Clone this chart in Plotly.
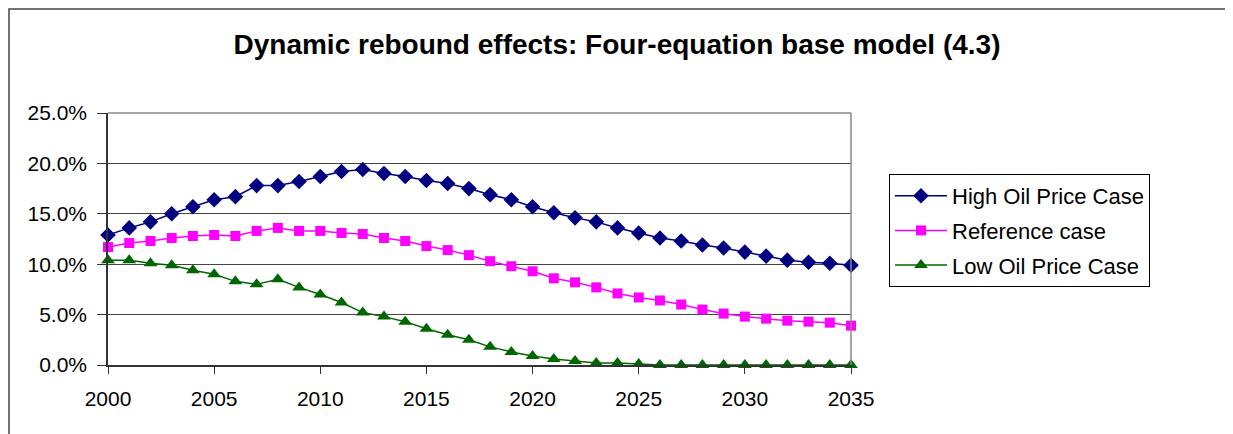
import plotly.graph_objects as go

years = list(range(2000, 2036))
high_oil = [12.9, 13.6, 14.2, 15.0, 15.7, 16.4, 16.7, 17.8, 17.8, 18.2, 18.7, 19.2, 19.4, 19.0, 18.7, 18.3, 18.0, 17.5,
            16.9, 16.4, 15.7, 15.1, 14.6, 14.2, 13.6, 13.1, 12.6, 12.3, 11.9, 11.6, 11.2, 10.8, 10.4, 10.2, 10.1, 9.9]
reference = [11.7, 12.1, 12.3, 12.6, 12.8, 12.9, 12.8, 13.3, 13.6, 13.3, 13.3, 13.1, 13.0, 12.6, 12.3, 11.8, 11.4, 10.9,
             10.3, 9.8, 9.3, 8.6, 8.2, 7.7, 7.1, 6.7, 6.4, 6.0, 5.5, 5.1, 4.8, 4.6, 4.4, 4.3, 4.2, 3.9]
low_oil = [10.4, 10.4, 10.1, 9.9, 9.4, 9.0, 8.3, 8.0, 8.5, 7.7, 7.0, 6.2, 5.2, 4.8, 4.3, 3.6, 3.0, 2.5,
           1.8, 1.3, 0.9, 0.6, 0.4, 0.2, 0.2, 0.1, 0.0, 0.0, 0.0, 0.0, 0.0, 0.0, 0.0, 0.0, 0.0, 0.0]
series_names = ["High Oil Price Case", "Reference case", "Low Oil Price Case"]
x_ticks = [2000, 2005, 2010, 2015, 2020, 2025, 2030, 2035]
y_ticks = [0, 5, 10, 15, 20, 25]
y_tick_labels = ["0.0%", "5.0%", "10.0%", "15.0%", "20.0%", "25.0%"]
title = "Dynamic rebound effects: Four-equation base model (4.3)"

FONT = "Liberation Sans, Arial, sans-serif"
W, H = 1233, 434
OFF = 8  # page body offset
L, R, T, B = 108 - OFF, 1233 - 851 + OFF, 113 - OFF, 434 - 365 + OFF


def px_x(p):
    return (p - OFF - L) / (W - L - R)


def px_y(p):
    return (H - B - (p - OFF)) / (H - T - B)


fig = go.Figure()
styles = [
    dict(color="#000080", symbol="diamond", size=12),
    dict(color="#FF00FF", symbol="square", size=10),
    dict(color="#006600", symbol="triangle-up", size=12),
]
for i, (name, vals, st) in enumerate(zip(series_names, [high_oil, reference, low_oil], styles)):
    fig.add_trace(go.Scatter(
        x=years, y=vals, name=name, mode="lines+markers", legendgroup=f"g{i}",
        line=dict(color=st["color"], width=1.5),
        marker=dict(color=st["color"], symbol=st["symbol"], size=st["size"]),
        cliponaxis=False,
    ))

fig.update_layout(
    width=W, height=H,
    margin=dict(l=L, r=R, t=T, b=B),
    paper_bgcolor="white", plot_bgcolor="white",
    font=dict(family=FONT, size=21, color="black"),
    title=dict(text="<b>" + title + "</b>", x=px_x(617), xanchor="center", xref="paper",
               y=1 - (44 - OFF) / H, yanchor="middle",
               font=dict(family=FONT, size=28, color="black")),
    showlegend=True,
    legend=dict(x=px_x(889), y=px_y(174), xanchor="left", yanchor="top",
                bordercolor="black", borderwidth=1, bgcolor="white",
                font=dict(family=FONT, size=22, color="black"),
                traceorder="grouped", tracegroupgap=3, itemwidth=52),
    xaxis=dict(range=[2000, 2035], tickvals=x_ticks, ticks="outside", ticklen=7, tickcolor="#333",
               showgrid=False, zeroline=False, showline=True, linecolor="#333", linewidth=1.5,
               mirror=False, tickfont=dict(size=21), ticklabelstandoff=7),
    yaxis=dict(range=[0, 25], tickvals=y_ticks, ticktext=y_tick_labels, ticks="outside", ticklen=9,
               tickcolor="#333", showgrid=True, gridcolor="#444", gridwidth=1, zeroline=False,
               showline=True, linecolor="#333", linewidth=1.5, tickfont=dict(size=21),
               ticklabelstandoff=6),
    shapes=[
        dict(type="line", xref="paper", yref="paper", x0=1, x1=1, y0=0, y1=1,
             line=dict(color="#888", width=1.5)),
        dict(type="line", xref="paper", yref="paper", x0=0, x1=1, y0=1, y1=1,
             line=dict(color="#888", width=1.5)),
        dict(type="rect", xref="paper", yref="paper", x0=px_x(OFF + 1), x1=px_x(1228), y0=px_y(460),
             y1=px_y(OFF + 1), line=dict(color="#444", width=1.5), layer="below"),
    ],
)

fig.write_html("out.html")
